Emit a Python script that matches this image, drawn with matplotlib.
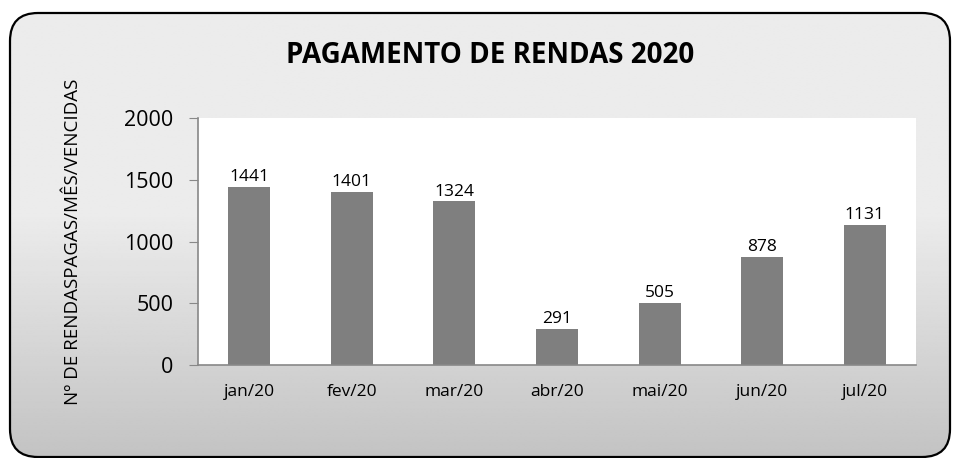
import numpy as np
import matplotlib.pyplot as plt
from matplotlib.patches import FancyBboxPatch

plt.rcParams['font.family'] = ['Open Sans', 'DejaVu Sans']

meses = ['jan/20', 'fev/20', 'mar/20', 'abr/20', 'mai/20', 'jun/20', 'jul/20']
rendas = [1441, 1401, 1324, 291, 505, 878, 1131]
yticks = [0, 500, 1000, 1500, 2000]

fig = plt.figure(figsize=(9.59, 4.58), dpi=100)
fig.patch.set_facecolor('white')

# fundo arredondado com gradiente
bg = fig.add_axes([0, 0, 1, 1], zorder=0)
bg.set_xlim(0, 959)
bg.set_ylim(458, 0)
bg.axis('off')
t = np.linspace(0, 1, 256)
shade = np.where(t < 0.45, 0.925, 0.925 - (t - 0.45) / 0.55 * 0.16)
grad = np.tile(shade[:, None], (1, 2))
img = bg.imshow(grad, cmap='gray', vmin=0, vmax=1, extent=[10, 950, 457, 13],
                aspect='auto', interpolation='bilinear')
box = FancyBboxPatch((10, 13), 940, 444, boxstyle='round,pad=0,rounding_size=28',
                     facecolor='none', edgecolor='black', linewidth=1.6)
bg.add_patch(box)
img.set_clip_path(box)

ax = fig.add_axes([198 / 959, 1 - 365 / 458, 718 / 959, 247 / 458], zorder=1)
x = np.arange(len(meses))
bars = ax.bar(x, rendas, width=0.41, color='#7f7f7f')
for xi, v in zip(x, rendas):
    ax.text(xi, v + 15, str(v), ha='center', va='bottom', fontsize=12.5, color='black')

ax.set_xlim(-0.5, len(meses) - 0.5)
ax.set_ylim(0, 2000)
ax.set_yticks(yticks)
ax.set_xticks(x)
ax.set_xticklabels(meses, fontsize=12.5)
ax.tick_params(axis='y', labelsize=15.5, length=6.5, color='#888888', pad=11)
ax.tick_params(axis='x', length=0, pad=14)
for s in ['top', 'right']:
    ax.spines[s].set_visible(False)
ax.spines['left'].set_color('#888888')
ax.spines['bottom'].set_color('#888888')
ax.spines['left'].set_linewidth(1.2)
ax.spines['bottom'].set_linewidth(1.2)

fig.text(490 / 959, 1 - 63 / 458, 'PAGAMENTO DE RENDAS 2020', ha='center', va='baseline',
         fontsize=20, fontweight='bold')
fig.text(73 / 959, 1 - 242 / 458, 'Nº DE RENDASPAGAS/MÊS/VENCIDAS', rotation=90,
         ha='center', va='center', fontsize=13.5)

fig.savefig('out.png', dpi=100)
